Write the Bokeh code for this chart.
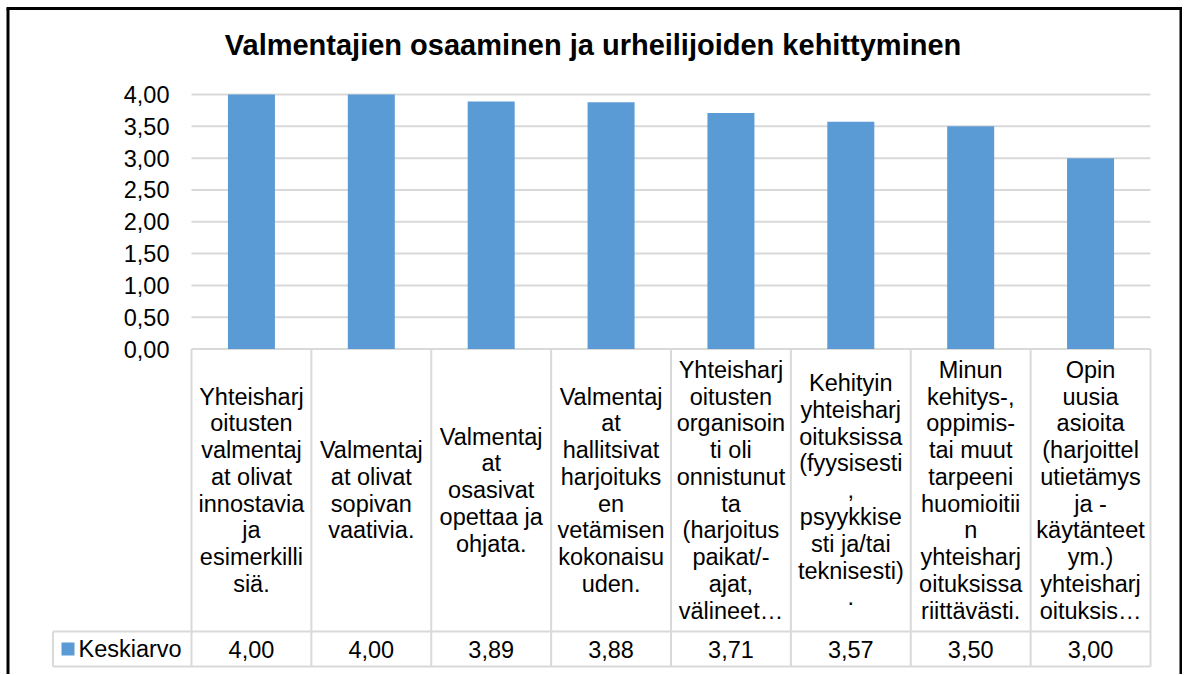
from bokeh.plotting import figure
from bokeh.models import Range1d, LinearAxis, FixedTicker, Grid, CustomJSTickFormatter
from bokeh.core.properties import value
from bokeh.embed import file_html
from bokeh.resources import INLINE

# ---------------- data ----------------
title_text = "Valmentajien osaaminen ja urheilijoiden kehittyminen"
series_name = "Keskiarvo"
categories = [
    "Yhteisharj\noitusten\nvalmentaj\nat olivat\ninnostavia\nja\nesimerkilli\nsiä.",
    "Valmentaj\nat olivat\nsopivan\nvaativia.",
    "Valmentaj\nat\nosasivat\nopettaa ja\nohjata.",
    "Valmentaj\nat\nhallitsivat\nharjoituks\nen\nvetämisen\nkokonaisu\nuden.",
    "Yhteisharj\noitusten\norganisoin\nti oli\nonnistunut\nta\n(harjoitus\npaikat/-\najat,\nvälineet…",
    "Kehityin\nyhteisharj\noituksissa\n(fyysisesti\n,\npsyykkise\nsti ja/tai\nteknisesti)\n.",
    "Minun\nkehitys-,\noppimis-\ntai muut\ntarpeeni\nhuomioitii\nn\nyhteisharj\noituksissa\nriittävästi.",
    "Opin\nuusia\nasioita\n(harjoittel\nutietämys\nja -\nkäytänteet\nym.)\nyhteisharj\noituksis…",
]
values = [4.00, 4.00, 3.89, 3.88, 3.71, 3.57, 3.50, 3.00]
y_ticks = [0.0, 0.5, 1.0, 1.5, 2.0, 2.5, 3.0, 3.5, 4.0]

# ---------------- layout constants (pixels on page) ----------------
PX0, PY0 = 1, 1             # observed canvas origin on the page
W, H = 1182, 674
X0PX, X8PX = 192.0, 1151.0  # plot area left/right
Y0PX, Y4PX = 349.5, 95.0    # value 0 and value 4
SX = (X8PX - X0PX) / len(values)
SY = (Y0PX - Y4PX) / 4.0

def X(px):
    return (px - X0PX) / SX

def Y(py):
    return (Y0PX - py) / SY

BAR = "#5B9BD5"
GRID = "#D9D9D9"
FONT = value("Liberation Sans")
FS = "23.5px"

p = figure(width=W, height=H, output_backend="svg", toolbar_location=None,
           x_range=Range1d(X(PX0), X(PX0 + W)), y_range=Range1d(Y(PY0 + H), Y(PY0)),
           x_axis_location=None, y_axis_location=None, min_border=0)
p.outline_line_color = None
p.background_fill_color = "white"
p.border_fill_color = "white"
p.center = [r for r in p.center if not isinstance(r, Grid)]

# y axis drawn at left edge of the plot area
yax = LinearAxis(fixed_location=0, ticker=FixedTicker(ticks=y_ticks))
yax.formatter = CustomJSTickFormatter(code="return tick.toFixed(2).replace('.', ',')")
yax.axis_line_color = None
yax.major_tick_line_color = None
yax.minor_tick_line_color = None
yax.major_tick_out = 0
yax.major_label_standoff = 22
yax.major_label_text_font = "Liberation Sans"
yax.major_label_text_font_size = FS
yax.major_label_text_color = "black"
p.add_layout(yax, "left")

n = len(values)

# horizontal gridlines, limited to the plot area
p.segment(x0=[0] * len(y_ticks), x1=[n] * len(y_ticks), y0=y_ticks, y1=y_ticks,
          line_color=GRID, line_width=2)

xs = [i + 0.5 for i in range(n)]
p.vbar(x=xs, top=values, bottom=0, width=47 / SX, fill_color=BAR, line_color=None)

# ---------- data table ----------
row1_bot = Y(632)
row2_bot = Y(667)
vx = [[i, i] for i in range(n + 1)] + [[X(53.5), X(53.5)]]
vy = [[0, row2_bot] for _ in range(n + 1)] + [[row1_bot, row2_bot]]
hx = [[X(53.5), n], [X(53.5), n]]
hy = [[row1_bot, row1_bot], [row2_bot, row2_bot]]
p.multi_line(xs=vx + hx, ys=vy + hy, line_color=GRID, line_width=2)

cat_mid = (0 + row1_bot) / 2
p.text(x=xs, y=[cat_mid] * n, text=categories, text_font=FONT, text_font_size=FS,
       text_align="center", text_baseline="middle", text_line_height=1.03, text_color="black")

val_mid = (row1_bot + row2_bot) / 2
p.text(x=xs, y=[val_mid] * n, text=[f"{v:.2f}".replace(".", ",") for v in values],
       text_font=FONT, text_font_size=FS, text_align="center", text_baseline="middle",
       text_color="black")

# legend key in the table
p.rect(x=[X(68.5)], y=[val_mid], width=13 / SX, height=13 / SY, fill_color=BAR, line_color=None)
p.text(x=[X(79)], y=[val_mid], text=[series_name], text_font=FONT, text_font_size=FS,
       text_align="left", text_baseline="middle", text_color="black")

# title
p.text(x=[X(593.5)], y=[Y(45)], text=[title_text], text_font=FONT, text_font_size="29px",
       text_font_style="bold", text_align="center", text_baseline="middle", text_color="black")

# outer chart border (left, top, right)
p.multi_line(xs=[[X(8.5), X(8.5)], [X(7), X(1183)], [X(1181.5), X(1181.5)]],
             ys=[[Y(676), Y(9)], [Y(9), Y(9)], [Y(9), Y(676)]],
             line_color="black", line_width=3)

open("out.html", "w").write(file_html(p, INLINE))
